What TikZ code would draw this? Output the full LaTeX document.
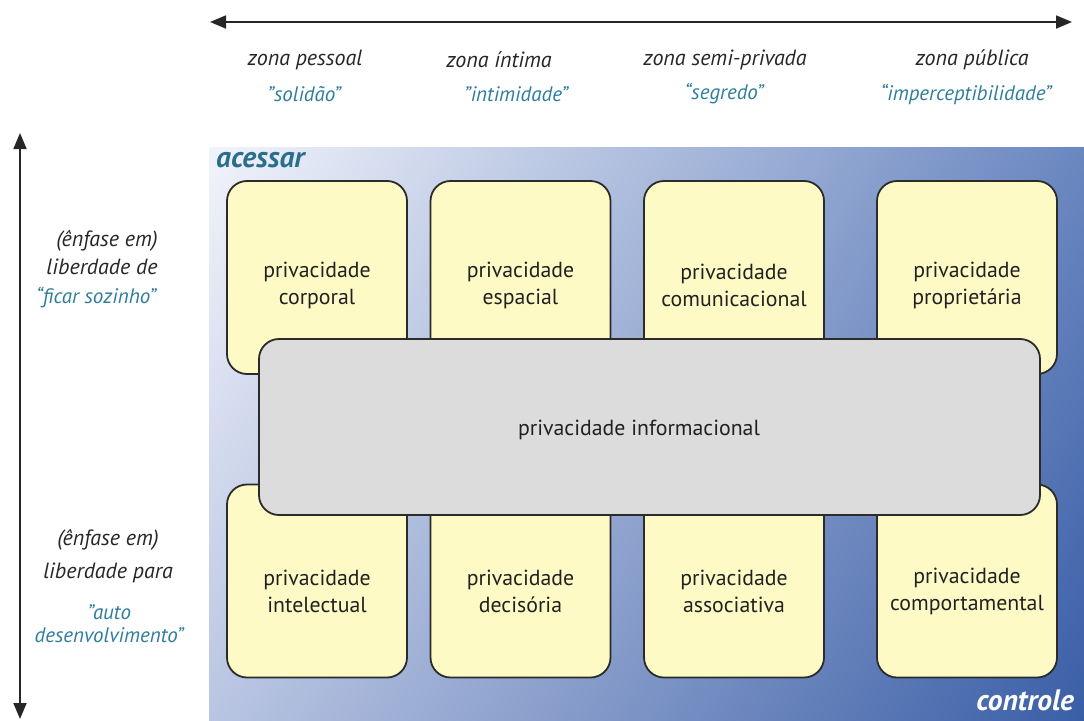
\documentclass[tikz,border=0pt]{standalone}
\usepackage{fontspec}
\setmainfont{PT Sans}
\usetikzlibrary{arrows.meta,shadings}
\definecolor{tealq}{HTML}{2F7D9C}
\definecolor{tealb}{HTML}{2A6E8E}
\definecolor{bgUL}{HTML}{F2F4FB}
\definecolor{bgUR}{HTML}{6A87C0}
\definecolor{bgLL}{HTML}{B9C5E2}
\definecolor{bgLR}{HTML}{3A5EA6}
\definecolor{yfill}{HTML}{FEFAC6}
\definecolor{gfill}{HTML}{DCDCDC}
\definecolor{edge}{HTML}{2B2B2B}
\begin{document}
\begin{tikzpicture}[x=1pt,y=-1pt,
  ybox/.style={draw=edge,line width=1.8pt,fill=yfill,rounded corners=20pt,minimum width=180pt,minimum height=193pt,inner sep=0pt},
  gbox/.style={draw=edge,line width=1.8pt,fill=gfill,rounded corners=20pt,minimum width=781pt,minimum height=176pt,inner sep=0pt},
  btext/.style={font=\fontsize{21.8}{27}\selectfont,align=center,text=black!87},
  zlab/.style={font=\fontsize{22}{26}\selectfont\itshape,text=black!85,align=center},
  qlab/.style={font=\fontsize{21}{24}\selectfont\itshape,text=tealq,align=center},
  axis/.style={line width=1.8pt,draw=black!85,{Triangle[length=16pt,width=13pt]}-{Triangle[length=16pt,width=13pt]}}
]
\useasboundingbox (0,0) rectangle (1084,720);
% background
\shade[upper left=bgUL,upper right=bgUR,lower left=bgLL,lower right=bgLR] (209,147) rectangle (1084,720);
% axes
\coordinate (hL) at (210,22);
\coordinate (hR) at (1072,22);
\draw[axis] (hL) -- (hR);
\coordinate (vT) at (20,133);
\coordinate (vB) at (20,719);
\draw[axis] (vT) -- (vB);
% top labels
\node[zlab] (z1) at (305,60) {zona pessoal};
\node[zlab] (z2) at (499,60) {zona íntima};
\node[zlab] (z3) at (725,60) {zona semi-privada};
\node[zlab] (z4) at (972,60) {zona pública};
\node[qlab] (q1) at (304,94) {"solidão"};
\node[qlab] (q2) at (516,94) {"intimidade"};
\node[qlab] (q3) at (724,94) {“segredo”};
\node[qlab] (q4) at (966,94) {“imperceptibilidade”};
% left labels
\node[zlab] (l1) at (107,241) {(ênfase em)};
\node[zlab] (l2) at (102,267) {liberdade de};
\node[qlab] (l3) at (96,298) {“ficar sozinho”};
\node[zlab] (l4) at (108,540) {(ênfase em)};
\node[zlab] (l5) at (108,573) {liberdade para};
\node[qlab,font=\fontsize{21}{23}\selectfont\itshape] (l6) at (109,624) {"auto\\desenvolvimento"};
% corner words
\node[font=\fontsize{29.5}{32}\selectfont\bfseries\itshape,text=tealb,anchor=west,inner sep=0pt] (acc) at (216,160) {acessar};
\node[font=\fontsize{29.5}{32}\selectfont\bfseries\itshape,text=white,anchor=east,inner sep=0pt] (ctl) at (1074,700) {controle};
% yellow boxes
\node[ybox] (b1) at (317,277.5) {};
\node[ybox] (b2) at (520.5,277.5) {};
\node[ybox] (b3) at (734,277.5) {};
\node[ybox] (b4) at (967,277.5) {};
\node[ybox] (b5) at (317,581) {};
\node[ybox] (b6) at (520.5,581) {};
\node[ybox] (b7) at (734,581) {};
\node[ybox] (b8) at (967,581) {};
\node[btext] (t1) at (317,285) {privacidade\\corporal};
\node[btext] (t2) at (520.5,285) {privacidade\\espacial};
\node[btext] (t3) at (734,285) {privacidade\\comunicacional};
\node[btext] (t4) at (967,285) {privacidade\\proprietária};
\node[btext] (t5) at (317,591) {privacidade\\intelectual};
\node[btext] (t6) at (520.5,591) {privacidade\\decisória};
\node[btext] (t7) at (734,591) {privacidade\\associativa};
\node[btext] (t8) at (967,591) {privacidade\\comportamental};
% gray box
\node[gbox] (g) at (649.5,427) {};
\node[btext] (gt) at (639,430) {privacidade informacional};
\end{tikzpicture}
\end{document}
